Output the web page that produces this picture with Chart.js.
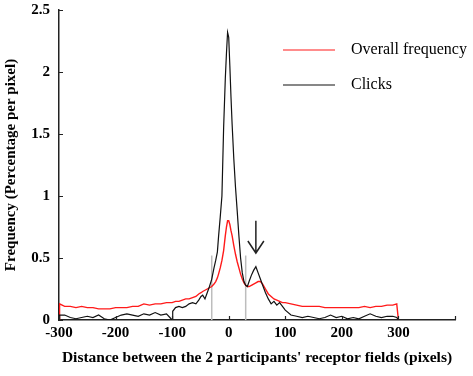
<!DOCTYPE html>
<html>
<head>
<meta charset="utf-8">
<script src="https://cdn.jsdelivr.net/npm/chart.js@4.4.1/dist/chart.umd.min.js"></script>
<style>
  html, body { margin: 0; padding: 0; background: #fff; }
  #wrap { width: 473px; height: 376px; }
</style>
</head>
<body>
<div id="wrap"><canvas id="myChart" width="473" height="376"></canvas></div>
<script>
// distance between receptor fields (pixels)
let distance = [
  -300, -299,
  -290, -280, -270, -260, -250, -240, -230, -220, -210, -200, -190, -180, -170, -160, -150, -140, -130, -120, -110,
  -104, -100, -99, -94, -88, -82, -76, -70, -64, -58, -53, -49, -46, -42, -38, -34, -30, -26, -23, -20, -18, -15, -12, -9, -6, -4, -2,
  0, 2, 4, 6, 9, 12, 15, 18, 21, 24, 27, 30, 33, 36, 40, 44, 48, 52, 56, 60,
  65, 70, 75, 80, 85, 90, 95, 100,
  110, 120, 130, 140, 150, 160, 170, 180, 190, 200, 210, 220, 230, 240, 250, 260, 270, 280, 290,
  297, 300
];
let overall = [
  0, 0.13,
  0.11, 0.11, 0.10, 0.11, 0.10, 0.10, 0.09, 0.09, 0.09, 0.10, 0.10, 0.10, 0.11, 0.11, 0.13, 0.12, 0.13, 0.13, 0.14,
  0.14, 0.14, 0.14, 0.15, 0.15, 0.16, 0.17, 0.17, 0.18, 0.19, 0.21, 0.22, 0.23, 0.24, 0.25, 0.26, 0.27, 0.29, 0.31, 0.34, 0.37, 0.42, 0.48, 0.56, 0.68, 0.75, 0.80,
  0.80, 0.77, 0.72, 0.68, 0.60, 0.53, 0.47, 0.42, 0.37, 0.33, 0.30, 0.28, 0.27, 0.27, 0.28, 0.29, 0.30, 0.31, 0.31, 0.29,
  0.25, 0.21, 0.19, 0.17, 0.16, 0.15, 0.14, 0.14,
  0.13, 0.12, 0.11, 0.11, 0.11, 0.11, 0.10, 0.10, 0.10, 0.10, 0.10, 0.10, 0.10, 0.11, 0.10, 0.11, 0.11, 0.12, 0.12,
  0.13, 0
];
let clicks = [
  0, 0.04,
  0.04, 0.02, 0.01, 0.02, 0.03, 0.02, 0.04, 0.01, 0.00, 0.02, 0.04, 0.05, 0.04, 0.03, 0.05, 0.04, 0.06, 0.04, 0.05,
  0.02, 0.00, 0.07, 0.10, 0.11, 0.10, 0.11, 0.13, 0.14, 0.13, 0.16, 0.19, 0.20, 0.17, 0.22, 0.27, 0.33, 0.42, 0.48, 0.55, 0.67, 0.83, 1.00, 1.55, 1.95, 2.15, 2.32,
  2.28, 2.05, 1.80, 1.58, 1.30, 1.07, 0.88, 0.68, 0.50, 0.38, 0.31, 0.28, 0.27, 0.31, 0.36, 0.40, 0.43, 0.38, 0.33, 0.28,
  0.22, 0.17, 0.13, 0.15, 0.12, 0.14, 0.11, 0.08,
  0.04, 0.03, 0.02, 0.03, 0.02, 0.01, 0.02, 0.04, 0.02, 0.03, 0.01, 0.02, 0.01, 0.03, 0.05, 0.03, 0.02, 0.03, 0.03,
  0.02, 0
];
let markerX = [-30, 30];
let markerTop = 0.52;
let arrowX = 48;
let arrowFrom = 0.80;
let arrowTo = 0.54;
let xTicks = [-300, -200, -100, 0, 100, 200, 300, 400];
let yTicks = [0, 0.5, 1, 1.5, 2, 2.5];
let seriesNames = ["Overall frequency", "Clicks"];
let seriesColors = ["#ff1a1a", "#111111"];

const serif = "'Liberation Serif', 'Times New Roman', serif";

function toPoints(xs, ys) {
  let pts = [];
  for (let i = 0; i < xs.length; i++) pts.push({ x: xs[i], y: ys[i] });
  return pts;
}

let datasets = [
  { label: seriesNames[1], data: toPoints(distance, clicks), borderColor: seriesColors[1], borderWidth: 1.2, order: 0 },
  { label: seriesNames[0], data: toPoints(distance, overall), borderColor: seriesColors[0], borderWidth: 1.4, order: 1 }
];
markerX.forEach(m => {
  datasets.push({ label: "marker", data: [{ x: m, y: 0 }, { x: m, y: markerTop }], borderColor: "#bdbdbd", borderWidth: 1.5, order: 2 });
});

const extras = {
  id: "extras",
  afterDraw(chart) {
    const { ctx, chartArea, scales: { x, y } } = chart;
    ctx.save();
    ctx.strokeStyle = "#222";
    ctx.lineWidth = 1.2;
    ctx.beginPath();
    xTicks.forEach(v => {
      const px = Math.round(x.getPixelForValue(v)) + 0.5;
      ctx.moveTo(px, chartArea.bottom);
      ctx.lineTo(px, chartArea.bottom - 4);
    });
    yTicks.forEach(v => {
      const py = Math.round(y.getPixelForValue(v)) + 0.5;
      ctx.moveTo(chartArea.left, py);
      ctx.lineTo(chartArea.left + 4, py);
    });
    ctx.stroke();

    // arrow pointing at the secondary peak
    const ax = x.getPixelForValue(arrowX);
    const ay1 = y.getPixelForValue(arrowFrom);
    const ay2 = y.getPixelForValue(arrowTo);
    ctx.lineWidth = 1.5;
    ctx.beginPath();
    ctx.moveTo(ax, ay1);
    ctx.lineTo(ax, ay2);
    ctx.moveTo(ax - 8, ay2 - 12);
    ctx.lineTo(ax, ay2);
    ctx.lineTo(ax + 8, ay2 - 12);
    ctx.stroke();

    // legend
    ctx.font = "16px " + serif;
    ctx.textBaseline = "middle";
    ctx.fillStyle = "#000";
    [0, 1].forEach(i => {
      const ly = 50 + i * 35;
      ctx.strokeStyle = seriesColors[i];
      ctx.lineWidth = 1.2;
      ctx.beginPath();
      ctx.moveTo(283, ly);
      ctx.lineTo(335, ly);
      ctx.stroke();
      ctx.fillText(seriesNames[i], 351, ly);
    });
    ctx.restore();
  }
};

new Chart("myChart", {
  type: "line",
  data: { datasets: datasets },
  options: {
    responsive: false,
    animation: false,
    layout: { autoPadding: false, padding: { top: 10, right: 18, left: 0, bottom: 0 } },
    elements: { point: { radius: 0 }, line: { tension: 0 } },
    plugins: { legend: { display: false }, tooltip: { enabled: false } },
    scales: {
      x: {
        type: "linear",
        min: -300,
        max: 400,
        afterBuildTicks: s => { s.ticks = xTicks.map(v => ({ value: v })); },
        afterFit: s => { s.height = 56; s.paddingLeft = 0; s.paddingRight = 0; },
        grid: { display: false, drawTicks: false },
        border: { display: true, color: "#222", width: 1.5 },
        ticks: {
          padding: 4,
          color: "#000",
          font: { family: serif, size: 15, weight: "bold" },
          callback: v => (v === 400 ? "" : String(v))
        },
        title: {
          display: true,
          text: "Distance between the 2 participants' receptor fields (pixels)",
          color: "#000",
          font: { family: serif, size: 15.5, weight: "bold" },
          padding: { top: 0, bottom: 9 }
        }
      },
      y: {
        min: 0,
        max: 2.5,
        afterBuildTicks: s => { s.ticks = yTicks.map(v => ({ value: v })); },
        afterFit: s => { s.width = 59; s.paddingTop = 0; s.paddingBottom = 0; },
        grid: { display: false, drawTicks: false },
        border: { display: true, color: "#222", width: 1.5 },
        ticks: {
          padding: 9,
          color: "#000",
          font: { family: serif, size: 15, weight: "bold" },
          callback: v => String(v)
        },
        title: {
          display: true,
          text: "Frequency (Percentage per pixel)",
          color: "#000",
          font: { family: serif, size: 15, weight: "bold" },
          padding: { top: 2, bottom: 0 }
        }
      }
    }
  },
  plugins: [extras]
});
</script>
</body>
</html>
